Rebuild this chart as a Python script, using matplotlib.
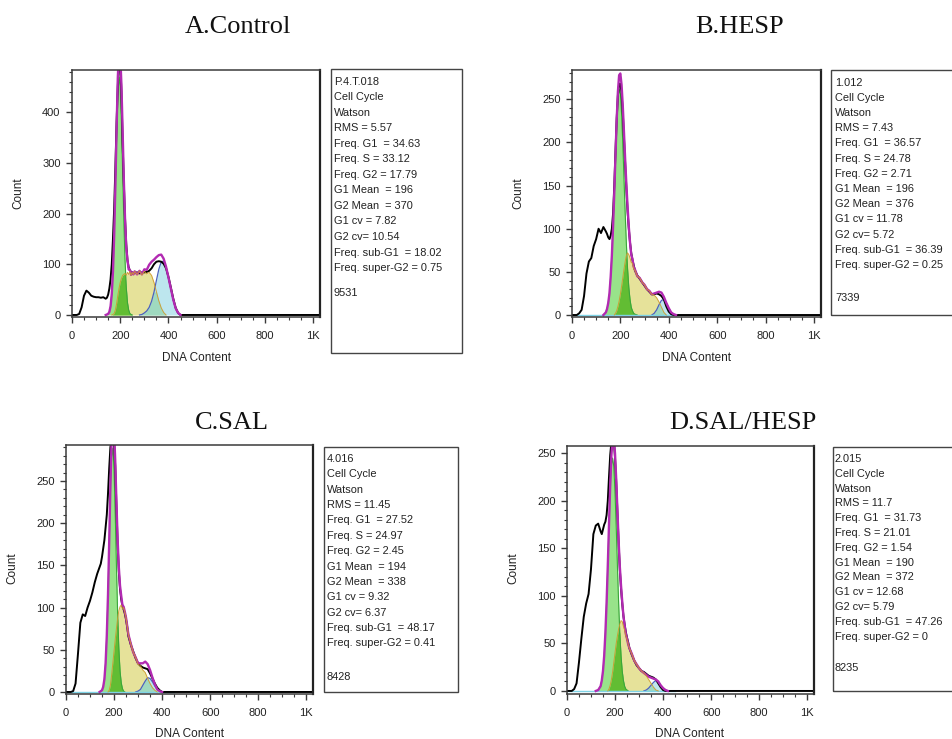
import numpy as np
import matplotlib
matplotlib.use("Agg")
import matplotlib.pyplot as plt
from matplotlib.ticker import MultipleLocator
from matplotlib.patches import Rectangle

W, H = 953, 739

# ---------------- data (DNA content channel -> counts) ----------------
dna_content = [0, 10, 20, 30, 40, 50, 60, 70, 80, 90, 100, 110, 120, 130, 140,
               145, 150, 155, 160, 165, 170, 175, 180, 185, 190, 195, 200, 205, 210, 215,
               220, 225, 230, 235, 240, 245, 250, 255,
               260, 270, 280, 290, 300, 310, 320, 330, 340, 350, 360, 370, 380, 390,
               400, 410, 420, 430, 440, 450, 460, 470, 480, 490, 500, 1024]

x_tick_values = [0, 200, 400, 600, 800, 1000]
x_tick_labels = ["0", "200", "400", "600", "800", "1K"]

# Panel A: Control
data_A = [0, 0, 0, 2, 15, 38, 48, 44, 38, 36, 35, 35, 34, 35, 32,
          34, 40, 52, 70, 100, 150, 210, 290, 380, 450, 500, 500, 440, 340, 260,
          190, 140, 108, 94, 88, 85, 84, 82,
          83, 84, 82, 84, 84, 85, 87, 92, 100, 105, 106, 105, 101, 92,
          75, 54, 32, 14, 4, 0, 0, 0, 0, 0, 0, 0]
g1_A = [0, 0, 0, 0, 0, 0, 0, 0, 0, 0, 0, 0, 0, 0, 0,
        1, 2, 6, 17, 41, 84, 153, 245, 345, 429, 469, 451, 382, 285, 187,
        108, 55, 25, 10, 3, 1, 0, 0,
        0, 0, 0, 0, 0, 0, 0, 0, 0, 0, 0, 0, 0, 0,
        0, 0, 0, 0, 0, 0, 0, 0, 0, 0, 0, 0]
s_A = [0, 0, 0, 0, 0, 0, 0, 0, 0, 0, 0, 0, 0, 0, 0,
       0, 0, 0, 0, 0, 1, 3, 10, 22, 38, 52, 64, 72, 78, 80,
       82, 78, 84, 80, 86, 78, 84, 80,
       86, 80, 87, 79, 86, 81, 84, 78, 64, 46, 28, 14, 5, 0,
       0, 0, 0, 0, 0, 0, 0, 0, 0, 0, 0, 0]
g2_A = [0, 0, 0, 0, 0, 0, 0, 0, 0, 0, 0, 0, 0, 0, 0,
        0, 0, 0, 0, 0, 0, 0, 0, 0, 0, 0, 0, 0, 0, 0,
        0, 0, 0, 0, 0, 0, 0, 0,
        0, 0, 0, 1, 4, 8, 15, 27, 45, 68, 90, 105, 106, 95,
        74, 52, 30, 13, 4, 0, 0, 0, 0, 0, 0, 0]

# Panel B: HESP
data_B = [0, 0, 0, 2, 6, 22, 48, 62, 66, 80, 88, 100, 95, 102, 97,
          94, 90, 88, 92, 100, 118, 150, 190, 228, 255, 268, 268, 258, 235, 205,
          175, 146, 120, 100, 84, 72, 64, 58,
          52, 46, 42, 38, 34, 30, 27, 24, 24, 25, 24, 22, 18, 10,
          4, 1, 0, 0, 0, 0, 0, 0, 0, 0, 0, 0]
g1_B = [0, 0, 0, 0, 0, 0, 0, 0, 0, 0, 0, 0, 0, 0, 3,
        7, 14, 25, 44, 69, 103, 142, 184, 222, 249, 262, 256, 234, 200, 159,
        118, 82, 53, 32, 18, 9, 5, 2,
        1, 0, 0, 0, 0, 0, 0, 0, 0, 0, 0, 0, 0, 0,
        0, 0, 0, 0, 0, 0, 0, 0, 0, 0, 0, 0]
s_B = [0, 0, 0, 0, 0, 0, 0, 0, 0, 0, 0, 0, 0, 0, 0,
       0, 0, 0, 0, 0, 0, 0, 2, 5, 10, 16, 24, 33, 43, 53,
       62, 69, 72, 70, 66, 61, 60, 54,
       52, 45, 43, 38, 35, 30, 28, 24, 23, 20, 15, 9, 3, 0,
       0, 0, 0, 0, 0, 0, 0, 0, 0, 0, 0, 0]
g2_B = [0, 0, 0, 0, 0, 0, 0, 0, 0, 0, 0, 0, 0, 0, 0,
        0, 0, 0, 0, 0, 0, 0, 0, 0, 0, 0, 0, 0, 0, 0,
        0, 0, 0, 0, 0, 0, 0, 0,
        0, 0, 0, 0, 0, 0, 0, 0, 2, 6, 12, 17, 18, 14,
        8, 3, 1, 0, 0, 0, 0, 0, 0, 0, 0, 0]

# Panel C: SAL
data_C = [0, 0, 0, 1, 10, 45, 82, 92, 90, 100, 108, 118, 130, 140, 148,
          152, 160, 170, 180, 195, 210, 235, 265, 290, 300, 300, 295, 268, 220, 176,
          143, 122, 110, 102, 98, 93, 86, 77,
          66, 56, 48, 40, 34, 31, 29, 28, 27, 22, 16, 10, 5, 2,
          0, 0, 0, 0, 0, 0, 0, 0, 0, 0, 0, 0]
g1_C = [0, 0, 0, 0, 0, 0, 0, 0, 0, 0, 0, 0, 0, 0, 0,
        1, 2, 6, 15, 34, 67, 115, 176, 236, 278, 289, 264, 213, 151, 94,
        52, 25, 11, 4, 1, 0, 0, 0,
        0, 0, 0, 0, 0, 0, 0, 0, 0, 0, 0, 0, 0, 0,
        0, 0, 0, 0, 0, 0, 0, 0, 0, 0, 0, 0]
s_C = [0, 0, 0, 0, 0, 0, 0, 0, 0, 0, 0, 0, 0, 0, 0,
       0, 0, 0, 0, 0, 0, 0, 2, 8, 20, 34, 48, 62, 75, 87,
       96, 101, 103, 99, 100, 95, 88, 78,
       68, 57, 47, 41, 33, 31, 26, 23, 16, 10, 5, 2, 0, 0,
       0, 0, 0, 0, 0, 0, 0, 0, 0, 0, 0, 0]
g2_C = [0, 0, 0, 0, 0, 0, 0, 0, 0, 0, 0, 0, 0, 0, 0,
        0, 0, 0, 0, 0, 0, 0, 0, 0, 0, 0, 0, 0, 0, 0,
        0, 0, 0, 0, 0, 0, 0, 0,
        0, 0, 0, 0, 1, 3, 8, 13, 17, 16, 12, 7, 3, 1,
        0, 0, 0, 0, 0, 0, 0, 0, 0, 0, 0, 0]

# Panel D: SAL/HESP
data_D = [0, 0, 0, 2, 8, 30, 55, 78, 92, 102, 128, 165, 174, 176, 168,
          165, 170, 175, 178, 185, 200, 225, 248, 262, 268, 265, 245, 220, 188, 156,
          128, 108, 92, 79, 70, 62, 56, 51,
          45, 38, 32, 27, 24, 21, 20, 18, 16, 15, 14, 12, 8, 4,
          1, 0, 0, 0, 0, 0, 0, 0, 0, 0, 0, 0]
g1_D = [0, 0, 0, 0, 0, 0, 0, 0, 0, 0, 0, 0, 0, 1, 5,
        11, 21, 37, 61, 93, 132, 173, 210, 236, 245, 236, 210, 173, 132, 93,
        61, 37, 21, 11, 5, 2, 1, 0,
        0, 0, 0, 0, 0, 0, 0, 0, 0, 0, 0, 0, 0, 0,
        0, 0, 0, 0, 0, 0, 0, 0, 0, 0, 0, 0]
s_D = [0, 0, 0, 0, 0, 0, 0, 0, 0, 0, 0, 0, 0, 0, 0,
       0, 0, 0, 0, 0, 0, 2, 6, 12, 20, 30, 40, 50, 58, 65,
       70, 74, 73, 68, 64, 58, 54, 49,
       45, 39, 32, 28, 24, 21, 19, 16, 12, 8, 4, 1, 0, 0,
       0, 0, 0, 0, 0, 0, 0, 0, 0, 0, 0, 0]
g2_D = [0, 0, 0, 0, 0, 0, 0, 0, 0, 0, 0, 0, 0, 0, 0,
        0, 0, 0, 0, 0, 0, 0, 0, 0, 0, 0, 0, 0, 0, 0,
        0, 0, 0, 0, 0, 0, 0, 0,
        0, 0, 0, 0, 0, 0, 0, 1, 3, 6, 9, 11, 10, 6,
        3, 1, 0, 0, 0, 0, 0, 0, 0, 0, 0, 0]

titles = ["A.Control", "B.HESP", "C.SAL", "D.SAL/HESP"]

stats_A = ["P.4.T.018", "Cell Cycle", "Watson", "RMS = 5.57", "Freq. G1  = 34.63",
           "Freq. S = 33.12", "Freq. G2 = 17.79", "G1 Mean  = 196", "G2 Mean  = 370",
           "G1 cv = 7.82", "G2 cv= 10.54", "Freq. sub-G1  = 18.02", "Freq. super-G2 = 0.75"]
stats_B = ["1.012", "Cell Cycle", "Watson", "RMS = 7.43", "Freq. G1  = 36.57",
           "Freq. S = 24.78", "Freq. G2 = 2.71", "G1 Mean  = 196", "G2 Mean  = 376",
           "G1 cv = 11.78", "G2 cv= 5.72", "Freq. sub-G1  = 36.39", "Freq. super-G2 = 0.25"]
stats_C = ["4.016", "Cell Cycle", "Watson", "RMS = 11.45", "Freq. G1  = 27.52",
           "Freq. S = 24.97", "Freq. G2 = 2.45", "G1 Mean  = 194", "G2 Mean  = 338",
           "G1 cv = 9.32", "G2 cv= 6.37", "Freq. sub-G1  = 48.17", "Freq. super-G2 = 0.41"]
stats_D = ["2.015", "Cell Cycle", "Watson", "RMS = 11.7", "Freq. G1  = 31.73",
           "Freq. S = 21.01", "Freq. G2 = 1.54", "G1 Mean  = 190", "G2 Mean  = 372",
           "G1 cv = 12.68", "G2 cv= 5.79", "Freq. sub-G1  = 47.26", "Freq. super-G2 = 0"]
event_counts = ["9531", "7339", "8428", "8235"]

# ---------------- layout (pixels) ----------------
panels = [
    dict(data=data_A, g1=g1_A, s=s_A, g2=g2_A, stats=stats_A, events=event_counts[0], title=titles[0],
         frame=(71.7, 70, 320, 317), ylim=(-4, 483), ymajor=100, yminor=20,
         title_xy=(238, 33), box=(331, 69, 462, 353), text_x=334, text_y0=81.7, text_dy=15.53, last_gap=25.3,
         count_xy=(18, 193), dna_xy=(197, 358), cyanbase=False),
    dict(data=data_B, g1=g1_B, s=s_B, g2=g2_B, stats=stats_B, events=event_counts[1], title=titles[1],
         frame=(571.7, 70, 820.7, 317), ylim=(-2.3, 284), ymajor=50, yminor=10,
         title_xy=(740, 33), box=(831, 70, 962, 315), text_x=835, text_y0=82.7, text_dy=15.19, last_gap=33.3,
         count_xy=(518, 193), dna_xy=(697, 358), cyanbase=True),
    dict(data=data_C, g1=g1_C, s=s_C, g2=g2_C, stats=stats_C, events=event_counts[2], title=titles[2],
         frame=(65.7, 445, 313, 694), ylim=(-2.4, 292.7), ymajor=50, yminor=10,
         title_xy=(232, 429), box=(324, 446.7, 458, 691.7), text_x=327, text_y0=459, text_dy=15.36, last_gap=34,
         count_xy=(12, 568), dna_xy=(190, 734), cyanbase=True),
    dict(data=data_D, g1=g1_D, s=s_D, g2=g2_D, stats=stats_D, events=event_counts[3], title=titles[3],
         frame=(566.7, 445.7, 814, 694), ylim=(-3.2, 258), ymajor=50, yminor=10,
         title_xy=(743, 429), box=(832.7, 446.7, 962, 691), text_x=835, text_y0=459, text_dy=14.8, last_gap=31,
         count_xy=(513, 568), dna_xy=(690, 734), cyanbase=True),
]

YELLOW = "#e6e29a"
CYAN = "#bde6ee"
TEAL = "#9fd9bf"
LGREEN = "#98e38a"
DGREEN = "#62bd33"
MAGENTA = "#b22ab2"
S_EDGE = "#cf9a2a"
G1_EDGE = "#3aa63a"
G2_EDGE = "#4a62c0"
FRAME = "#3a3a3a"

SANS = ["Liberation Sans", "DejaVu Sans"]
SERIF = ["Liberation Serif", "DejaVu Serif"]

fig = plt.figure(figsize=(W / 100, H / 100), dpi=100)
fig.patch.set_facecolor("white")


def fx(px):
    return px / W


def fy(py):
    return 1 - py / H


def edge_only(y):
    """Mask zero runs so component outlines do not run along the baseline."""
    y = np.asarray(y, float)
    out = y.copy()
    pos = y > 0
    keep = pos.copy()
    keep[1:] |= pos[:-1]
    keep[:-1] |= pos[1:]
    out[~keep] = np.nan
    return out


x = np.array(dna_content, float)

for p in panels:
    l, t, r, b = p["frame"]
    ax = fig.add_axes([fx(l), fy(b), (r - l) / W, (b - t) / H])
    data = np.array(p["data"], float)
    g1 = np.array(p["g1"], float)
    s = np.array(p["s"], float)
    g2 = np.array(p["g2"], float)

    ax.fill_between(x, 0, s, color=YELLOW, lw=0)
    ax.fill_between(x, 0, g2, color=CYAN, lw=0)
    ax.fill_between(x, 0, np.minimum(s, g2), color=TEAL, lw=0)
    ax.fill_between(x, 0, g1, color=LGREEN, lw=0)
    ax.fill_between(x, 0, np.minimum(g1, s), color=DGREEN, lw=0)

    ax.plot(x, edge_only(g1), color=G1_EDGE, lw=0.8)
    ax.plot(x, edge_only(g2), color=G2_EDGE, lw=0.9)

    if p["cyanbase"]:
        ax.plot(x[x <= 450], np.zeros((x <= 450).sum()), color="#7fd3e6", lw=1.0)

    ax.plot(x, data, color="black", lw=1.4, solid_joinstyle="round")
    total = g1 + s + g2
    ax.plot(x, edge_only(total), color=MAGENTA, lw=1.7)
    ax.plot(x, edge_only(s), color=S_EDGE, lw=0.7, alpha=0.9)

    ax.set_xlim(-1, 1028)
    ax.set_xticks(x_tick_values)
    ax.set_xticklabels(x_tick_labels)
    ax.xaxis.set_minor_locator(MultipleLocator(50))
    ax.yaxis.set_major_locator(MultipleLocator(p["ymajor"]))
    ax.yaxis.set_minor_locator(MultipleLocator(p["yminor"]))
    ax.set_ylim(*p["ylim"])
    ax.tick_params(axis="both", which="major", length=4.5, width=1.0, color=FRAME,
                   direction="out", labelsize=8, labelcolor="#222222")
    ax.tick_params(axis="both", which="minor", length=2.5, width=0.8, color=FRAME, direction="out")
    ax.tick_params(axis="x", which="major", pad=5.5)
    ax.tick_params(axis="y", which="major", pad=3.5)
    for lab in ax.get_xticklabels() + ax.get_yticklabels():
        lab.set_family(SANS)
    for side, sp in ax.spines.items():
        sp.set_color(FRAME)
        sp.set_linewidth(1.1)
    ax.spines["right"].set_linewidth(1.6)
    ax.spines["right"].set_color("#222222")

    # titles and axis labels
    fig.text(fx(p["title_xy"][0]), fy(p["title_xy"][1]), p["title"], ha="center", va="baseline",
             fontsize=19, family=SERIF, color="#111111")
    fig.text(fx(p["count_xy"][0]), fy(p["count_xy"][1]), "Count", rotation=90, ha="center",
             va="center", fontsize=8.5, family=SANS, color="#222222")
    fig.text(fx(p["dna_xy"][0]), fy(p["dna_xy"][1]), "DNA Content", ha="center", va="center",
             fontsize=8.5, family=SANS, color="#222222")

    # statistics box
    bl, bt, br, bb = p["box"]
    fig.patches.append(Rectangle((fx(bl), fy(bb)), (br - bl) / W, (bb - bt) / H,
                                 transform=fig.transFigure, fill=False, ec="#444444", lw=1.0))
    for i, line in enumerate(p["stats"]):
        fig.text(fx(p["text_x"]), fy(p["text_y0"] + i * p["text_dy"]), line, ha="left", va="center",
                 fontsize=7.9, family=SANS, color="#222222")
    last_y = p["text_y0"] + (len(p["stats"]) - 1) * p["text_dy"] + p["last_gap"]
    fig.text(fx(p["text_x"]), fy(last_y), p["events"], ha="left", va="center",
             fontsize=7.9, family=SANS, color="#222222")

fig.savefig("out.png", dpi=100, facecolor="white")
